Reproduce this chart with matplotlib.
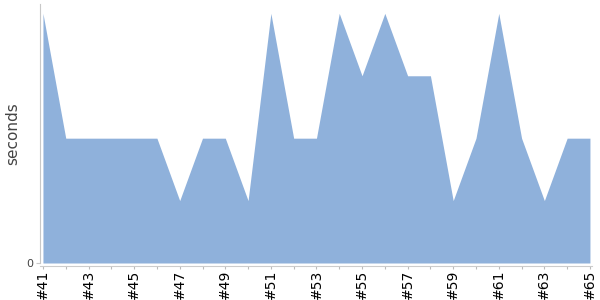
import matplotlib
matplotlib.use("Agg")
import matplotlib.pyplot as plt

# build numbers and durations (seconds)
builds = ["#%d" % n for n in range(41, 66)]
seconds = [4, 2, 2, 2, 2, 2, 1, 2, 2, 1, 4, 2, 2, 4, 3, 4, 3, 3, 1, 2, 4, 2, 1, 2, 2]

fig = plt.figure(figsize=(6, 3), dpi=100)
ax = fig.add_axes([40 / 600, 37 / 300, 552 / 600, 259 / 300])

x = list(range(len(builds)))
ax.fill_between(x, seconds, 0, color="#8fb1db", linewidth=0)

ax.set_xlim(-0.13, len(builds) - 1 + 0.09)
ax.set_ylim(0, 4.15)

ax.set_xticks(x)
ax.set_xticklabels([b if i % 2 == 0 else "" for i, b in enumerate(builds)], fontsize=6)
ax.set_yticks([0])
ax.set_yticklabels(["0"], fontsize=8)
ax.set_ylabel("seconds", fontsize=11, color="#444444")
ax.yaxis.set_label_coords(-0.035, 0.5)

for s in ["top", "right"]:
    ax.spines[s].set_visible(False)
ax.spines["left"].set_color("#c8c8c8")
ax.spines["bottom"].set_color("#cccccc")
# offsets below are in points (1 px = 0.72 pt at dpi 100)
ax.spines["bottom"].set_position(("outward", 2))
ax.tick_params(axis="x", colors="#bbbbbb", labelcolor="black", length=2.5, pad=0.5,
               labelrotation=90)
ax.tick_params(axis="y", colors="#c8c8c8", labelcolor="#444444", length=3, pad=2)

fig.savefig("out.png", dpi=100)
